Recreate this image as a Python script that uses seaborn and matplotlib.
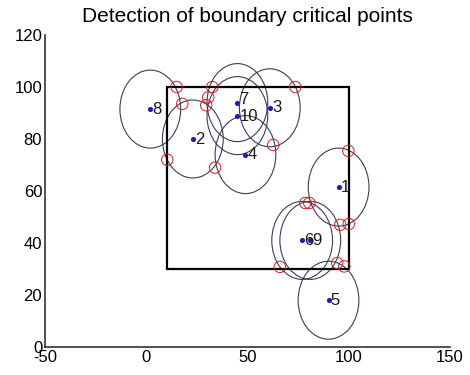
import matplotlib
matplotlib.use("Agg")
import matplotlib.pyplot as plt
from matplotlib.patches import Circle, Rectangle
import seaborn as sns
import pandas as pd

# sensor nodes
node_ids = ['1', '2', '3', '4', '5', '6', '7', '8', '9', '10']
node_x = [95, 23, 61, 49, 90, 77, 45, 2, 81, 45]
node_y = [61.5, 80, 92, 74, 18, 41, 94, 91.5, 41, 89]
radius = [15, 15, 15, 15, 15, 15, 15, 15, 15, 15]

# boundary critical points
crit_x = [15, 32.6, 17.8, 30.6, 29.6, 73.6, 62.7, 10.4, 34, 99.8, 78.5, 80.5, 95.8, 100, 66, 94.3, 97.8]
crit_y = [100, 100, 93.5, 96, 93, 100, 77.7, 72, 69, 75.4, 55.4, 55.4, 47, 47.3, 30.8, 32.3, 31]

# region of interest
region_x0, region_y0, region_x1, region_y1 = 10, 30, 100, 100

x_ticks = [-50, 0, 50, 100, 150]
x_labels = ['-50', '0', '50', '100', '150']
y_ticks = [0, 20, 40, 60, 80, 100, 120]
y_labels = ['0', '20', '40', '60', '80', '100', '120']

sns.set_style("white")
plt.rcParams['font.family'] = ['Liberation Sans', 'DejaVu Sans']

fig = plt.figure(figsize=(4.7, 3.75), dpi=100)
ax = fig.add_axes([45/470, 28/375, 405/470, 312/375])

nodes = pd.DataFrame({'id': node_ids, 'x': node_x, 'y': node_y, 'r': radius})
crit = pd.DataFrame({'x': crit_x, 'y': crit_y})

for _, row in nodes.iterrows():
    ax.add_patch(Circle((row.x, row.y), row.r, fill=False, edgecolor='#3c3c5c', lw=0.8, zorder=2))

ax.add_patch(Rectangle((region_x0, region_y0), region_x1 - region_x0, region_y1 - region_y0,
                       fill=False, edgecolor='black', lw=1.6, zorder=3))

sns.scatterplot(data=nodes, x='x', y='y', ax=ax, color='#2020b0', s=14, linewidth=0, zorder=4, legend=False)
sns.scatterplot(data=crit, x='x', y='y', ax=ax, marker='o', s=68, facecolor='none',
                edgecolor='#cc2020', linewidth=0.7, zorder=5, legend=False)

label_dy = {'7': 2, '10': -1}  # pixel nudges to keep close labels legible
for _, row in nodes.iterrows():
    ax.annotate(row.id, (row.x, row.y), xytext=(1.5, label_dy.get(row.id, 0)),
                textcoords='offset points', fontsize=12, va='center', ha='left',
                color='#1a1a1a', zorder=6)

ax.set_xlim(-50, 150)
ax.set_ylim(0, 120)
ax.set_xticks(x_ticks)
ax.set_xticklabels(x_labels)
ax.set_yticks(y_ticks)
ax.set_yticklabels(y_labels)
ax.set_xlabel('')
ax.set_ylabel('')
ax.tick_params(direction='in', length=3, width=0.8, labelsize=12, colors='black', pad=2)
for s in ['top', 'right']:
    ax.spines[s].set_visible(False)
for s in ['left', 'bottom']:
    ax.spines[s].set_color('#333333')
    ax.spines[s].set_linewidth(1.2)
ax.set_title('Detection of boundary critical points', fontsize=15, pad=9, color='black')

fig.savefig('out.png', dpi=100)
